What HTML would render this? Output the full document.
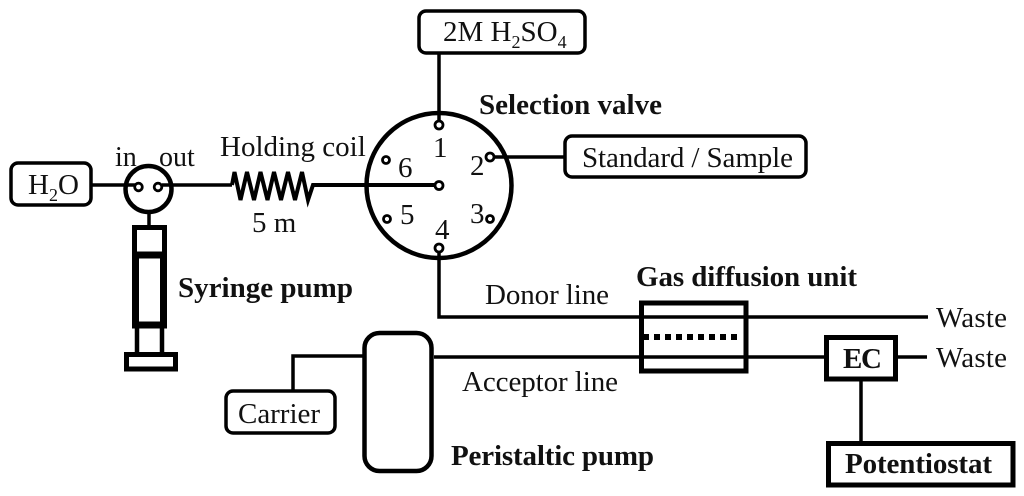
<!DOCTYPE html>
<html><head><meta charset="utf-8">
<style>
html,body{margin:0;padding:0;background:#fff;width:1024px;height:496px;overflow:hidden}
svg{display:block}
text{font-family:"Liberation Serif",serif;font-size:29px;fill:#111}
.b{font-weight:bold;font-size:29px}
.s{font-size:18px}
</style></head>
<body>
<svg width="1024" height="496" viewBox="0 0 1024 496" xmlns="http://www.w3.org/2000/svg">
<g fill="none" stroke="#000" stroke-width="3.5">
<!-- rounded boxes -->
<rect x="11" y="163" width="80" height="42" rx="7"/>
<rect x="419" y="11" width="166" height="42" rx="7"/>
<rect x="565" y="136" width="241" height="41" rx="7"/>
<rect x="226" y="391" width="109" height="42" rx="7"/>
<!-- lines -->
<path d="M92 185H136M162 185H232"/>
<path d="M232 185 L234.500 172 L240.500 200 L247 172 L254 200 L260.500 172 L267.500 200 L274 172 L281 200 L288 172 L295 200 L302 172 L308 200 L313 185 H436" stroke-width="4" stroke-linejoin="miter"/>
<path d="M439 53V121"/>
<path d="M494 157H565"/>
<path d="M439 252V317H928"/>
<path d="M293 391V356H363"/>
<path d="M434 357H825"/>
<path d="M897 357H927"/>
<path d="M861 380V442"/>
<path d="M149 212V226"/>
<!-- pump head -->
<circle cx="148.500" cy="189" r="23" stroke-width="4.500"/>
<circle cx="138.500" cy="187" r="3.800" stroke-width="2.800"/>
<circle cx="158" cy="187" r="3.800" stroke-width="2.800"/>
<!-- valve -->
<circle cx="439" cy="185.500" r="72.500" stroke-width="4.500"/>
<g stroke-width="2.800" fill="#fff">
<circle cx="439" cy="125" r="4"/>
<circle cx="439" cy="185.500" r="4"/>
<circle cx="490" cy="157" r="4"/>
<circle cx="490" cy="219" r="3.500"/>
<circle cx="439" cy="248" r="4"/>
<circle cx="387" cy="219" r="3.500"/>
<circle cx="386" cy="160" r="3.500"/>
</g>
<!-- syringe -->
<rect x="134.500" y="227.500" width="30" height="28" stroke-width="5"/>
<rect x="135.500" y="255" width="28" height="70" stroke-width="7"/>
<path d="M137 327V352M162 327V352" stroke-width="4.500"/>
<rect x="126.500" y="354.500" width="49" height="14.500" stroke-width="5"/>
<!-- peristaltic -->
<rect x="364.500" y="333" width="67" height="138" rx="15" stroke-width="4.500"/>
<!-- gas unit -->
<rect x="641.500" y="303" width="104.500" height="68" stroke-width="5"/>
<path d="M643 337H739" stroke-width="6" stroke-dasharray="6 5"/>
<!-- EC / potentiostat -->
<rect x="826.500" y="337.500" width="69" height="41.500" stroke-width="5" fill="#fff"/>
<rect x="828.500" y="443.500" width="184.500" height="41.500" stroke-width="5"/>
</g>
<!-- labels -->
<text x="28" y="194">H<tspan class="s" dy="7">2</tspan><tspan dy="-7">O</tspan></text>
<text x="115" y="166" style="font-size:28px">in</text>
<text x="159" y="166" style="font-size:28px">out</text>
<text x="220" y="156">Holding coil</text>
<text x="252" y="232">5 m</text>
<text x="443" y="41">2M H<tspan class="s" dy="7">2</tspan><tspan dy="-7">SO</tspan><tspan class="s" dy="7">4</tspan></text>
<text x="582" y="167" textLength="211">Standard / Sample</text>
<text class="b" x="479" y="114" textLength="183">Selection valve</text>
<text class="b" x="178" y="297" textLength="175">Syringe pump</text>
<text class="b" x="636" y="286" textLength="221">Gas diffusion unit</text>
<text class="b" x="451" y="465" textLength="203">Peristaltic pump</text>
<text x="485" y="304" textLength="124">Donor line</text>
<text x="462" y="391" textLength="156">Acceptor line</text>
<text x="238" y="423" textLength="82">Carrier</text>
<text x="936" y="327" textLength="71">Waste</text>
<text x="936" y="367" textLength="71">Waste</text>
<text class="b" x="843" y="368" textLength="39">EC</text>
<text class="b" x="845" y="473" textLength="147">Potentiostat</text>
<text x="433" y="157">1</text>
<text x="470" y="175">2</text>
<text x="470" y="223">3</text>
<text x="435" y="239">4</text>
<text x="400" y="224">5</text>
<text x="398" y="177">6</text>
</svg>
</body></html>
